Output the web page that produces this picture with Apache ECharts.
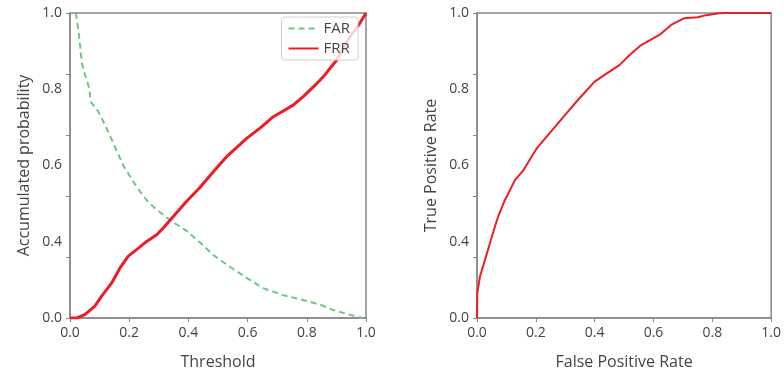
<!DOCTYPE html>
<html>
<head>
<meta charset="utf-8">
<script src="https://cdn.jsdelivr.net/npm/echarts@6/dist/echarts.min.js"></script>
<style>
  html, body { margin: 0; padding: 0; background: #fff; }
  #main { width: 784px; height: 376px; }
</style>
</head>
<body>
<div id="main"></div>
<script>
  // tick labels (the source figure labels 5 evenly spaced positions like this)
  var yTickLabels = ['0.0', '0.4', '0.6', '0.8', '1.0'];
  var xTickLabels = ['0.0', '0.2', '0.4', '0.6', '0.8', '1.0'];

  // left plot: [threshold, probability]
  var farData = [
    [0.02, 1.0], [0.03, 0.93], [0.04, 0.836], [0.05, 0.8], [0.065, 0.754], [0.07, 0.709],
    [0.096, 0.676], [0.12, 0.63], [0.146, 0.574], [0.18, 0.5], [0.225, 0.43],
    [0.26, 0.385], [0.294, 0.354], [0.338, 0.321], [0.395, 0.285], [0.44, 0.247],
    [0.483, 0.207], [0.54, 0.168], [0.598, 0.131], [0.652, 0.098], [0.72, 0.075],
    [0.80, 0.056], [0.85, 0.042], [0.889, 0.026], [0.94, 0.012], [0.99, 0.0]
  ];
  var frrData = [
    [0, 0], [0.023, 0], [0.05, 0.011], [0.084, 0.039], [0.107, 0.072], [0.141, 0.115],
    [0.169, 0.164], [0.197, 0.203], [0.225, 0.224], [0.259, 0.251], [0.293, 0.273],
    [0.315, 0.295], [0.349, 0.333], [0.394, 0.383], [0.439, 0.428], [0.485, 0.48],
    [0.529, 0.529], [0.597, 0.589], [0.645, 0.625], [0.687, 0.66], [0.754, 0.698],
    [0.788, 0.726], [0.83, 0.765], [0.861, 0.797], [0.901, 0.846], [0.946, 0.922],
    [0.975, 0.96], [1.0, 1.0]
  ];

  // right plot: [fpr, tpr]
  var rocData = [
    [0, 0], [0.001, 0.081], [0.01, 0.136], [0.027, 0.19], [0.044, 0.245], [0.061, 0.3],
    [0.072, 0.333], [0.095, 0.387], [0.129, 0.452], [0.158, 0.485], [0.203, 0.556],
    [0.247, 0.606], [0.304, 0.671], [0.346, 0.718], [0.4, 0.775], [0.434, 0.797],
    [0.485, 0.83], [0.519, 0.862], [0.558, 0.895], [0.62, 0.928], [0.66, 0.961],
    [0.705, 0.983], [0.75, 0.986], [0.779, 0.993], [0.824, 0.999], [0.85, 1.0], [1.0, 1.0]
  ];

  var font = 'Open Sans';
  var txt = '#444';
  var frame = '#888';

  function xAx(idx, name) {
    return {
      type: 'value', gridIndex: idx, min: 0, max: 1, interval: 0.2,
      name: name, nameLocation: 'middle', nameGap: 36,
      nameTextStyle: { fontFamily: font, fontSize: 16, color: txt },
      axisLine: { show: true, lineStyle: { color: frame, width: 1.5 } },
      axisTick: { show: true, length: 4, lineStyle: { color: frame } },
      axisLabel: {
        fontFamily: font, fontSize: 14, color: txt, margin: 8,
        formatter: function (v) { return xTickLabels[Math.round(v / 0.2)]; }
      },
      splitLine: { show: false }
    };
  }
  function yTicks(idx, name) {
    return {
      type: 'value', gridIndex: idx, min: 0, max: 1, interval: 0.2,
      name: name, nameLocation: 'middle', nameGap: 38, nameRotate: 90,
      nameTextStyle: { fontFamily: font, fontSize: 16, color: txt },
      axisLine: { show: true, lineStyle: { color: frame, width: 1.5 } },
      axisTick: { show: true, length: 4, lineStyle: { color: frame } },
      axisLabel: { show: false },
      splitLine: { show: false }
    };
  }
  function yLabels(idx) {
    return {
      type: 'value', gridIndex: idx, min: 0, max: 1, interval: 0.25, position: 'left',
      axisLine: { show: false }, axisTick: { show: false },
      axisLabel: {
        fontFamily: font, fontSize: 14, color: txt, margin: 8,
        formatter: function (v) { return yTickLabels[Math.round(v / 0.25)]; }
      },
      splitLine: { show: false }
    };
  }

  var chart = echarts.init(document.getElementById('main'), null, { renderer: 'canvas' });
  var option = {
    animation: false,
    backgroundColor: '#fff',
    grid: [
      { left: 70, right: 418, top: 13, bottom: 58, show: true, borderColor: frame, borderWidth: 1.5 },
      { left: 477, right: 12, top: 13, bottom: 58, show: true, borderColor: frame, borderWidth: 1.5 }
    ],
    legend: {
      right: 426, top: 17, orient: 'vertical',
      data: ['FAR', 'FRR'],
      itemWidth: 30, itemHeight: 12, itemGap: 5,
      padding: [4, 8, 4, 6],
      borderColor: '#d0d0d0', borderWidth: 1, borderRadius: 3,
      backgroundColor: 'rgba(255,255,255,0.8)',
      itemStyle: { opacity: 0 },
      textStyle: { fontFamily: font, fontSize: 15, color: txt }
    },
    xAxis: [xAx(0, 'Threshold'), xAx(1, 'False Positive Rate')],
    yAxis: [yTicks(0, 'Accumulated probability'), yLabels(0),
            yTicks(1, 'True Positive Rate'), yLabels(1)],
    series: [
      {
        name: 'FAR', type: 'line', xAxisIndex: 0, yAxisIndex: 0, data: farData,
        symbol: 'none', lineStyle: { color: '#6cc785', width: 2, type: [6, 4] },
        itemStyle: { color: '#6cc785' }
      },
      {
        name: 'FRR', type: 'line', xAxisIndex: 0, yAxisIndex: 0, data: frrData,
        symbol: 'none', lineStyle: { color: '#ee1c25', width: 3 },
        itemStyle: { color: '#ee1c25' }
      },
      {
        name: 'ROC', type: 'line', xAxisIndex: 1, yAxisIndex: 2, data: rocData,
        symbol: 'none', lineStyle: { color: '#ee1c25', width: 2 },
        itemStyle: { color: '#ee1c25' }
      }
    ]
  };
  chart.setOption(option);
</script>
</body>
</html>
